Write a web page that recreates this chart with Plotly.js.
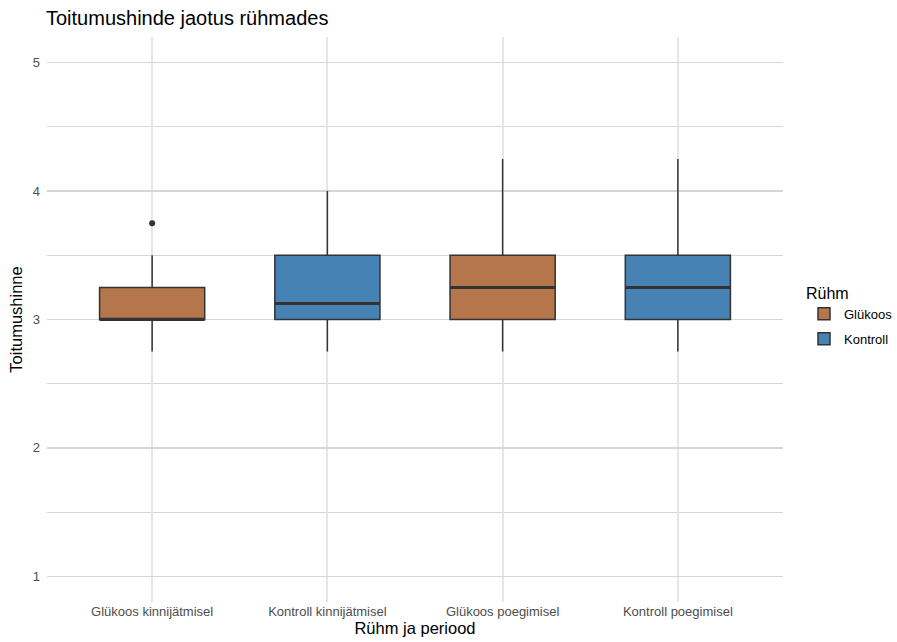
<!DOCTYPE html>
<html>
<head>
<meta charset="utf-8">
<script src="https://cdn.plot.ly/plotly-3.0.1.min.js"></script>
<style>
  html, body { margin: 0; padding: 0; background: #fff; }
  #chart { width: 897px; height: 642px; }
</style>
</head>
<body>
<div id="chart"></div>
<script>
// Toitumushinde kokkuvõtlikud näitajad rühmade ja perioodide kaupa
const categories = ["Glükoos kinnijätmisel", "Kontroll kinnijätmisel", "Glükoos poegimisel", "Kontroll poegimisel"];
const groups     = ["Glükoos", "Kontroll", "Glükoos", "Kontroll"];
const lowerWhisker = [2.75, 2.75, 2.75, 2.75];
const q1           = [3.0, 3.0, 3.0, 3.0];
const medians      = [3.0, 3.125, 3.25, 3.25];
const q3           = [3.25, 3.5, 3.5, 3.5];
const upperWhisker = [3.5, 4.0, 4.25, 4.25];
const outlierCats   = ["Glükoos kinnijätmisel"];
const outlierValues = [3.75];

const groupNames = ["Glükoos", "Kontroll"];
const groupColors = { "Glükoos": "#B4764A", "Kontroll": "#4682B4" };
const edge = "#333333";
const boxWidth = 0.6;

const traces = groupNames.map(g => {
  const idx = categories.map((c, i) => i).filter(i => groups[i] === g);
  return {
    type: "box",
    name: g,
    legendgroup: g,
    x: idx.map(i => categories[i]),
    q1: idx.map(i => q1[i]),
    median: idx.map(i => medians[i]),
    q3: idx.map(i => q3[i]),
    lowerfence: idx.map(i => lowerWhisker[i]),
    upperfence: idx.map(i => upperWhisker[i]),
    width: boxWidth,
    whiskerwidth: 0,
    fillcolor: groupColors[g],
    line: { color: edge, width: 1.5 },
    boxpoints: false,
    hoverinfo: "y"
  };
});

traces.push({
  type: "scatter",
  mode: "markers",
  x: outlierCats,
  y: outlierValues,
  marker: { color: edge, size: 6 },
  showlegend: false,
  hoverinfo: "y"
});

// thicker median bars, as in the classic boxplot look
const medianShapes = medians.map((m, i) => ({
  type: "line", xref: "x", yref: "y",
  x0: i - boxWidth / 2, x1: i + boxWidth / 2, y0: m, y1: m,
  line: { color: edge, width: 3 }, layer: "above"
}));

const layout = {
  width: 897, height: 642,
  paper_bgcolor: "#fff", plot_bgcolor: "#fff",
  font: { family: "Liberation Sans, Arial, sans-serif", color: "#4D4D4D", size: 13 },
  margin: { l: 47, r: 114, t: 37, b: 40 },
  title: {
    text: "Toitumushinde jaotus rühmades",
    font: { size: 20, color: "#000" },
    x: 46 / 897, xanchor: "left", xref: "container",
    y: 1 - 18 / 642, yanchor: "middle"
  },
  boxmode: "overlay",
  showlegend: true,
  legend: {
    title: { text: "Rühm", font: { size: 16, color: "#000" } },
    font: { size: 13, color: "#000" },
    xref: "container", yref: "container",
    x: 804 / 897, xanchor: "left", y: 1 - 316 / 642, yanchor: "middle",
    traceorder: "grouped", tracegroupgap: 5, itemwidth: 30,
    bgcolor: "rgba(0,0,0,0)"
  },
  xaxis: {
    type: "category",
    categoryorder: "array",
    categoryarray: categories,
    range: [-0.6, 3.6],
    showgrid: true, gridcolor: "#E6E6E6", gridwidth: 2,
    zeroline: false, showline: false, ticks: "",
    tickfont: { size: 13, color: "#4D4D4D" },
    title: { text: "Rühm ja periood", font: { size: 16.5, color: "#000" }, standoff: 2 },
    automargin: false, fixedrange: true
  },
  yaxis: {
    range: [0.8, 5.2],
    tickvals: [1, 2, 3, 4, 5],
    showgrid: true, gridcolor: "#D6D6D6", gridwidth: 1.2,
    minor: { dtick: 0.5, tick0: 0.5, showgrid: true, gridcolor: "#D6D6D6", gridwidth: 1.2, ticks: "" },
    zeroline: false, showline: false, ticks: "",
    ticklabelstandoff: 6,
    tickfont: { size: 13, color: "#4D4D4D" },
    title: { text: "Toitumushinne", font: { size: 16.5, color: "#000" }, standoff: 5 },
    automargin: false, fixedrange: true
  },
  shapes: medianShapes
};

Plotly.newPlot("chart", traces, layout, { displayModeBar: false, staticPlot: true });
</script>
</body>
</html>
